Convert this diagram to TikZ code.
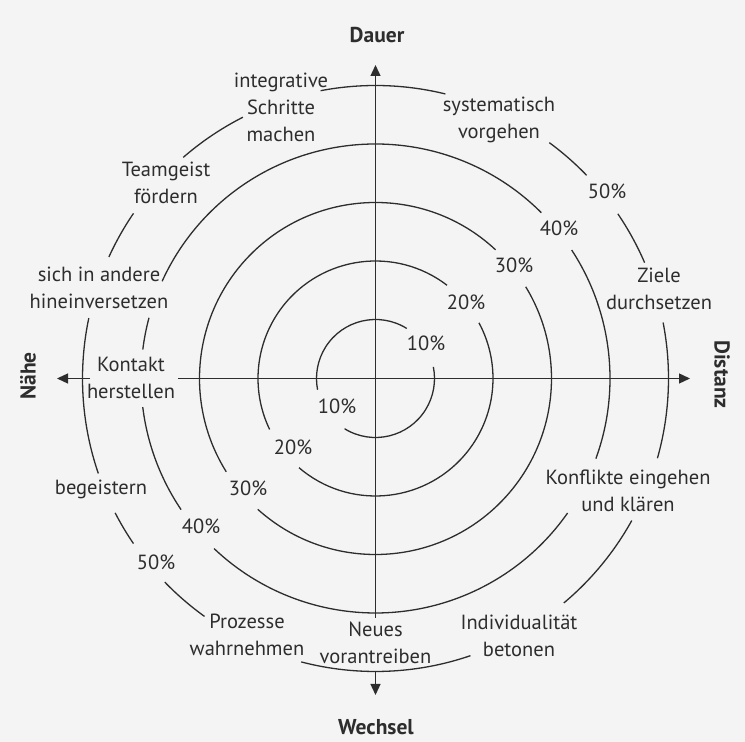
\documentclass[tikz,border=0pt]{standalone}
\usepackage{fontspec}
\setmainfont{PT Sans}
\usetikzlibrary{arrows.meta}
\definecolor{ink}{RGB}{45,45,45}
\definecolor{paper}{RGB}{244,244,244}
\begin{document}
\begin{tikzpicture}[x=1pt,y=1pt,
  ring/.style={draw=ink,line width=1.3pt},
  axisarrow/.style={draw=ink,line width=1.3pt,-{Triangle[length=11pt,width=10pt]}},
  lbl/.style={font=\fontsize{20.5}{27}\selectfont,text=ink,align=center,inner sep=0pt},
  axislbl/.style={font=\fontsize{21.5}{24}\selectfont\bfseries,text=ink,inner sep=0pt}]
\fill[paper] (0,0) rectangle (745,742);
\useasboundingbox (0,0) rectangle (745,742);
\coordinate (C) at (375.5,363.5);
% rings
\foreach \r/\a/\b in {
  59/58/191, 59/238.4/371.3,
  117.5/52.5/205.7, 117.5/229.4/388.3,
  176/47/212, 176/228/391.4,
  234.5/45/155.5, 234.5/165/172.9, 234.5/187/214, 234.5/226.5/325, 234.5/340/393.2,
  293/76.2/100.8, 293/116.9/131, 293/145.7/155.5, 293/168.1/198.9, 293/207.3/214.3,
  293/224/234.3, 293/255.3/288.9, 293/310/331, 293/344.2/371, 293/23.3/34.2, 293/43.9/53.6}
  \draw[ring] ([shift={(\a:\r)}]C) arc[start angle=\a,end angle=\b,radius=\r];
% axes
\coordinate (vlow) at (375.5,124);
\coordinate (vtop) at (375.5,677);
\coordinate (vcirc) at (375.5,71);
\coordinate (vbot) at (375.5,47);
\coordinate (hleftA) at (90,363.5);
\coordinate (hleft) at (57,363.5);
\coordinate (hrightA) at (178,363.5);
\coordinate (hright) at (690,363.5);
\draw[axisarrow] (vlow) -- (vtop);
\draw[axisarrow] (vcirc) -- (vbot);
\draw[axisarrow] (hleftA) -- (hleft);
\draw[axisarrow] (hrightA) -- (hright);
% axis labels
\node[axislbl] (dauer) at (377,707) {Dauer};
\node[axislbl] (wechsel) at (376,15) {Wechsel};
\node[axislbl,rotate=90] (naehe) at (28,366) {Nähe};
\node[axislbl,rotate=-90] (distanz) at (722,367.5) {Distanz};
% text labels
\node[lbl] (integr) at (281,635) {integrative\\Schritte\\machen};
\node[lbl] (system) at (499,622) {systematisch\\vorgehen};
\node[lbl] (team) at (166,559) {Teamgeist\\fördern};
\node[lbl] (sich) at (99,454) {sich in andere\\hineinversetzen};
\node[lbl] (kontakt) at (131,364) {Kontakt\\herstellen};
\node[lbl] (begeist) at (101,253) {begeistern};
\node[lbl] (prozesse) at (247,107) {Prozesse\\wahrnehmen};
\node[lbl] (neues) at (375.5,99) {Neues\\vorantreiben};
\node[lbl] (indiv) at (519,106) {Individualität\\betonen};
\node[lbl] (konfl) at (628,251) {Konflikte eingehen\\und klären};
\node[lbl] (ziele) at (659,453) {Ziele\\durchsetzen};
% percentages
\node[lbl] (pl50) at (156,180) {50\%};
\node[lbl] (pl40) at (201,216) {40\%};
\node[lbl] (pl30) at (248,254) {30\%};
\node[lbl] (pl20) at (293,295) {20\%};
\node[lbl] (pl10) at (337,336) {10\%};
\node[lbl] (pr50) at (607,551) {50\%};
\node[lbl] (pr40) at (559,514) {40\%};
\node[lbl] (pr30) at (514,477) {30\%};
\node[lbl] (pr20) at (466,440) {20\%};
\node[lbl] (pr10) at (426,399) {10\%};
\end{tikzpicture}
\end{document}
